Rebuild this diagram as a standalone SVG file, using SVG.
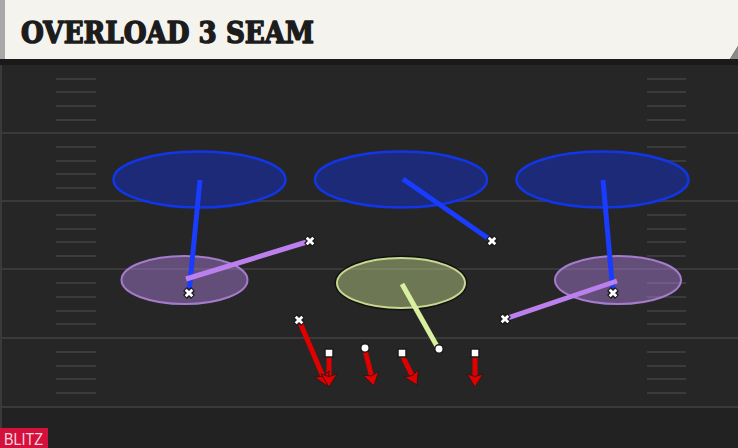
<svg xmlns="http://www.w3.org/2000/svg" width="738" height="448" viewBox="0 0 738 448">
  <style>
    .yard{stroke:#3a3a3a;stroke-width:2}
    .hash{stroke:#3b3b3b;stroke-width:2}
    .zb{fill:#1c2a78;stroke:#1236e6;stroke-width:2.5}
    .zp{fill:#b080e0;fill-opacity:0.45;stroke:#a57ccc;stroke-width:2}
    .zg{fill:#c8dc8c;fill-opacity:0.45;stroke:#c8d890;stroke-width:2}
    .rb{stroke:#1a3cff;stroke-width:5;stroke-linecap:butt;fill:none}
    .rp{stroke:#bb80ee;stroke-width:5;fill:none}
    .rg{stroke:#d8f0a0;stroke-width:5;fill:none}
    .rr{stroke:#e00000;stroke-width:5;fill:none}
    .head{fill:#e00000;stroke:#1a1a1a;stroke-width:0.8;stroke-linejoin:round}
    .sq{fill:#ffffff;stroke:#1a1a1a;stroke-width:1.5}
  </style>
  <defs>
    <path id="ah" d="M0,0 L-8,-13 L0,-10.5 L8,-13 z"/>
    <g id="xm">
      <path d="M-4,-4 L4,4 M4,-4 L-4,4" stroke="#1a1a1a" stroke-width="5.5"/>
      <path d="M-3.3,-3.3 L3.3,3.3 M3.3,-3.3 L-3.3,3.3" stroke="#ffffff" stroke-width="2.8"/>
    </g>
  </defs>

  <!-- field -->
  <rect x="0" y="0" width="738" height="448" fill="#262626"/>
  <rect x="0" y="407" width="738" height="41" fill="#222222"/>
  <rect x="0" y="59" width="738" height="6" fill="#1a1a1a"/>
  <line x1="1" y1="65" x2="1" y2="448" stroke="#3a3a3a" stroke-width="2"/>
  <g id="yardlines">
    <line class="yard" x1="0" y1="133" x2="738" y2="133"/>
    <line class="yard" x1="0" y1="201" x2="738" y2="201"/>
    <line class="yard" x1="0" y1="269" x2="738" y2="269"/>
    <line class="yard" x1="0" y1="338" x2="738" y2="338"/>
    <line class="yard" x1="0" y1="407" x2="738" y2="407"/>
  </g>
  <g id="hashes">
    <path class="hash" d="M56,79H96M56,92H96M56,106H96M56,120H96M56,147H96M56,161H96M56,174H96M56,188H96M56,215H96M56,229H96M56,242H96M56,256H96M56,283H96M56,297H96M56,311H96M56,324H96M56,352H96M56,366H96M56,379H96M56,393H96"/>
    <path class="hash" d="M647,79H686M647,92H686M647,106H686M647,120H686M647,147H686M647,161H686M647,174H686M647,188H686M647,215H686M647,229H686M647,242H686M647,256H686M647,283H686M647,297H686M647,311H686M647,324H686M647,352H686M647,366H686M647,379H686M647,393H686"/>
  </g>

  <!-- header -->
  <g id="header">
    <rect x="0" y="0" width="5" height="59" fill="#a8a8a8"/>
    <polygon points="5,0 738,0 738,46 730,59 5,59" fill="#f5f3ed"/>
    <polygon points="738,46 738,59 730,59" fill="#8a8a8a"/>
    <text x="21" y="43" font-family="DejaVu Serif, serif" font-weight="bold" font-size="30" fill="#1c1c1c" stroke="#1c1c1c" stroke-width="1.6" stroke-linejoin="round" textLength="293" lengthAdjust="spacingAndGlyphs">OVERLOAD 3 SEAM</text>
  </g>

  <!-- zones -->
  <g id="zone-deep-left"><ellipse class="zb" cx="199.5" cy="179.5" rx="86" ry="28"/></g>
  <g id="zone-deep-middle"><ellipse class="zb" cx="401" cy="179.5" rx="86" ry="28"/></g>
  <g id="zone-deep-right"><ellipse class="zb" cx="602.5" cy="179.5" rx="86" ry="28"/></g>
  <g id="zone-flat-left"><ellipse class="zp" cx="184.5" cy="280" rx="63" ry="24"/></g>
  <g id="zone-flat-right"><ellipse class="zp" cx="618" cy="280" rx="63" ry="24"/></g>
  <g id="zone-hook-middle">
    <ellipse cx="401" cy="283" rx="65.5" ry="26.5" fill="none" stroke="#111" stroke-width="2"/>
    <ellipse class="zg" cx="401" cy="283" rx="64" ry="25"/>
  </g>

  <!-- connectors -->
  <g id="connectors">
    <line class="rb" x1="200" y1="180" x2="189" y2="293"/>
    <line class="rb" x1="403" y1="179" x2="492" y2="241"/>
    <line class="rb" x1="603" y1="180" x2="613" y2="293"/>
    <line class="rp" x1="186" y1="279" x2="310" y2="241"/>
    <line class="rp" x1="617" y1="281" x2="505" y2="319"/>
    <line class="rg" x1="402" y1="284" x2="438" y2="348"/>
    <line class="rr" x1="299" y1="320" x2="323.1" y2="376.8"/>
    <line class="rr" x1="329" y1="356" x2="329" y2="377"/>
    <line class="rr" x1="365" y1="350" x2="371.6" y2="376.3"/>
    <line class="rr" x1="402" y1="355" x2="412.5" y2="376.1"/>
    <line class="rr" x1="475" y1="356" x2="475" y2="377"/>
    <use href="#ah" class="head" transform="translate(327,386) rotate(-23)"/>
    <use href="#ah" class="head" transform="translate(329,387)"/>
    <use href="#ah" class="head" transform="translate(374,386) rotate(-14)"/>
    <use href="#ah" class="head" transform="translate(417,385) rotate(-26.6)"/>
    <use href="#ah" class="head" transform="translate(475,387)"/>
  </g>

  <!-- players -->
  <g id="def-left-flat"><use href="#xm" x="189" y="293"/></g>
  <g id="def-left-hook"><use href="#xm" x="310" y="241"/></g>
  <g id="def-right-hook"><use href="#xm" x="492" y="241"/></g>
  <g id="def-right-flat"><use href="#xm" x="613" y="293"/></g>
  <g id="def-right-edge"><use href="#xm" x="505" y="319"/></g>
  <g id="def-blitz"><use href="#xm" x="299" y="320"/></g>
  <g id="dl-1"><rect class="sq" x="325" y="349" width="8" height="8"/></g>
  <g id="dl-2"><circle class="sq" cx="365" cy="348" r="4.2"/></g>
  <g id="dl-3"><rect class="sq" x="398" y="349" width="8" height="8"/></g>
  <g id="dl-4"><rect class="sq" x="471" y="349" width="8" height="8"/></g>
  <g id="dl-drop"><circle class="sq" cx="439" cy="349" r="4.2"/></g>

  <!-- label -->
  <g id="blitz-label">
    <rect x="0" y="428" width="48" height="20" fill="#d4103c"/>
    <text x="4" y="444.5" font-family="Liberation Sans, Arial, sans-serif" font-size="16" fill="#f7d6dd" textLength="39" lengthAdjust="spacingAndGlyphs">BLITZ</text>
  </g>
</svg>
